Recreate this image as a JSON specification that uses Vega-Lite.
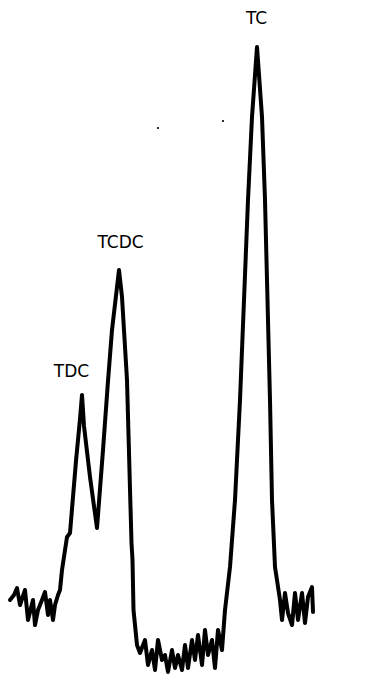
{
  "$schema": "https://vega.github.io/schema/vega-lite/v6.json",
  "width": 371,
  "height": 681,
  "padding": 0,
  "autosize": {"type": "none"},
  "background": "white",
  "config": {"view": {"stroke": null}},
  "datasets": {
    "trace": [
      {"t": 10, "s": 81}, {"t": 14, "s": 86}, {"t": 17, "s": 93}, {"t": 20, "s": 76}, {"t": 25, "s": 91},
      {"t": 28, "s": 61}, {"t": 33, "s": 81}, {"t": 35, "s": 56}, {"t": 38, "s": 71}, {"t": 42, "s": 81},
      {"t": 45, "s": 89}, {"t": 48, "s": 66}, {"t": 50, "s": 81}, {"t": 53, "s": 61}, {"t": 55, "s": 76},
      {"t": 58, "s": 86}, {"t": 60, "s": 91}, {"t": 62, "s": 111}, {"t": 67, "s": 144}, {"t": 70, "s": 148},
      {"t": 76, "s": 220}, {"t": 80, "s": 262}, {"t": 82, "s": 286}, {"t": 84, "s": 255}, {"t": 90, "s": 204},
      {"t": 97, "s": 153}, {"t": 103, "s": 231}, {"t": 108, "s": 300}, {"t": 112, "s": 351}, {"t": 119, "s": 411},
      {"t": 122, "s": 384}, {"t": 127, "s": 301}, {"t": 131.5, "s": 138}, {"t": 132.5, "s": 121}, {"t": 133.5, "s": 71},
      {"t": 137, "s": 36}, {"t": 140, "s": 28}, {"t": 145, "s": 41}, {"t": 148, "s": 16}, {"t": 152, "s": 31},
      {"t": 155, "s": 11}, {"t": 158, "s": 41}, {"t": 162, "s": 21}, {"t": 165, "s": 26}, {"t": 168, "s": 9},
      {"t": 172, "s": 31}, {"t": 175, "s": 13}, {"t": 178, "s": 26}, {"t": 182, "s": 11}, {"t": 185, "s": 36},
      {"t": 188, "s": 13}, {"t": 192, "s": 41}, {"t": 195, "s": 21}, {"t": 198, "s": 46}, {"t": 202, "s": 16},
      {"t": 205, "s": 51}, {"t": 208, "s": 26}, {"t": 212, "s": 41}, {"t": 215, "s": 13}, {"t": 218, "s": 51},
      {"t": 222, "s": 31}, {"t": 225, "s": 71}, {"t": 230, "s": 114}, {"t": 235, "s": 181}, {"t": 240, "s": 281},
      {"t": 248, "s": 481}, {"t": 252, "s": 564}, {"t": 257, "s": 634}, {"t": 262, "s": 564}, {"t": 265, "s": 481},
      {"t": 270, "s": 281}, {"t": 272, "s": 181}, {"t": 275, "s": 114}, {"t": 280, "s": 81}, {"t": 282, "s": 61},
      {"t": 285, "s": 88}, {"t": 288, "s": 68}, {"t": 292, "s": 56}, {"t": 295, "s": 88}, {"t": 298, "s": 61},
      {"t": 302, "s": 88}, {"t": 305, "s": 58}, {"t": 308, "s": 84}, {"t": 312, "s": 94}, {"t": 313, "s": 69}
    ],
    "labels": [
      {"t": 71.5, "s": 309, "name": "TDC"},
      {"t": 120.5, "s": 438.5, "name": "TCDC"},
      {"t": 256.5, "s": 662.5, "name": "TC"}
    ],
    "specks": [
      {"t": 158, "s": 553},
      {"t": 223, "s": 560}
    ]
  },
  "encoding": {
    "x": {"field": "t", "type": "quantitative", "scale": {"domain": [0, 371]}, "axis": null},
    "y": {"field": "s", "type": "quantitative", "scale": {"domain": [0, 681]}, "axis": null}
  },
  "layer": [
    {
      "data": {"name": "trace"},
      "mark": {"type": "line", "color": "black", "strokeWidth": 4, "strokeJoin": "round", "strokeCap": "round", "clip": false}
    },
    {
      "data": {"name": "specks"},
      "mark": {"type": "circle", "color": "black", "size": 5, "opacity": 1}
    },
    {
      "data": {"name": "labels"},
      "mark": {"type": "text", "font": "DejaVu Sans", "fontSize": 17, "color": "black", "baseline": "middle", "align": "center"},
      "encoding": {"text": {"field": "name"}}
    }
  ]
}
